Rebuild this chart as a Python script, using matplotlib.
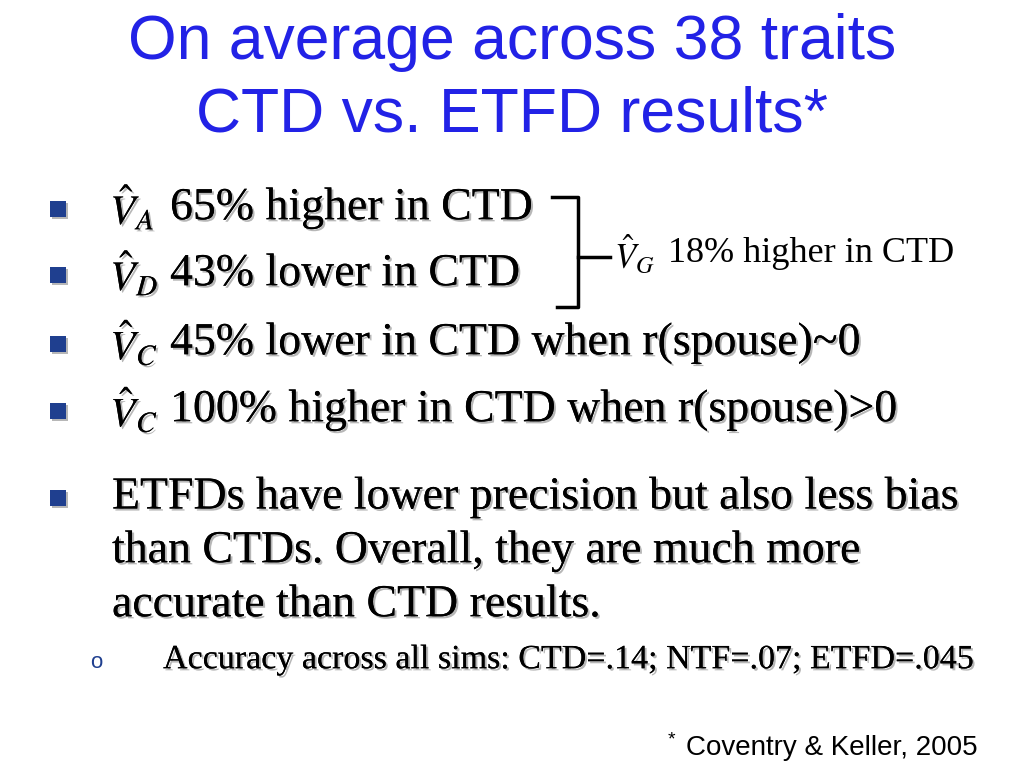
import matplotlib.pyplot as plt
import matplotlib.patheffects as pe

title_lines = ["On average across 38 traits", "CTD vs. ETFD results*"]
bullet_syms = [r"$\hat{V}_{A}$", r"$\hat{V}_{D}$", r"$\hat{V}_{C}$", r"$\hat{V}_{C}$"]
bullet_texts = ["65% higher in CTD", "43% lower in CTD",
                "45% lower in CTD when r(spouse)~0", "100% higher in CTD when r(spouse)>0"]
bullet_y = [208, 274, 343, 410]
para_lines = ["ETFDs have lower precision but also less bias",
              "than CTDs. Overall, they are much more",
              "accurate than CTD results."]
para_y = [497, 551, 605]
sub_text = "Accuracy across all sims: CTD=.14; NTF=.07; ETFD=.045"
brace_sym = r"$\hat{V}_{G}$"
brace_text = "18% higher in CTD"
footnote = "Coventry & Keller, 2005"

blue = "#2222e6"
shadow = [pe.withSimplePatchShadow(offset=(1.5, -1.5), shadow_rgbFace="#888888", alpha=0.6), pe.Normal()]
plt.rcParams["mathtext.fontset"] = "stix"

fig = plt.figure(figsize=(10.24, 7.68), dpi=100)
ax = fig.add_axes([0, 0, 1, 1])
ax.set_xlim(0, 1024)
ax.set_ylim(768, 0)
ax.axis("off")

for i, t in enumerate(title_lines):
    ax.text(512, 42 + i * 73, t, ha="center", va="center", color=blue,
            fontsize=45, family="Liberation Sans")

for y, s, t in zip(bullet_y, bullet_syms, bullet_texts):
    ax.text(58, y, "\u25a0", ha="center", va="center", color="#1f3f8f", fontsize=15, path_effects=shadow)
    ax.text(110, y, s, ha="left", va="center", fontsize=30, path_effects=shadow)
    ax.text(170, y, t, ha="left", va="center",
            fontsize=33, family="Liberation Serif", path_effects=shadow)

ax.text(58, para_y[0], "\u25a0", ha="center", va="center", color="#1f3f8f", fontsize=15, path_effects=shadow)
for y, t in zip(para_y, para_lines):
    ax.text(112, y, t, ha="left", va="center", fontsize=33, family="Liberation Serif", path_effects=shadow)

ax.text(96, 662, "o", ha="center", va="center", color="#1f3f8f", fontsize=16, family="Liberation Sans")
ax.text(163, 660, sub_text, ha="left", va="center", fontsize=24.5, family="Liberation Serif", path_effects=shadow)

# brace
ax.plot([552, 578, 578, 557], [197, 197, 307, 307], color="black", lw=2.5)
ax.plot([578, 610], [257, 257], color="black", lw=2.5)
ax.text(614, 254, brace_sym, ha="left", va="center", fontsize=25)
ax.text(668, 254, brace_text, ha="left", va="center", fontsize=26, family="Liberation Serif")

ax.text(668, 740, "*", ha="left", va="center", fontsize=14, family="Liberation Sans")
ax.text(978, 748, footnote, ha="right", va="center", fontsize=20, family="Liberation Sans")

fig.savefig("out.png", dpi=100)
